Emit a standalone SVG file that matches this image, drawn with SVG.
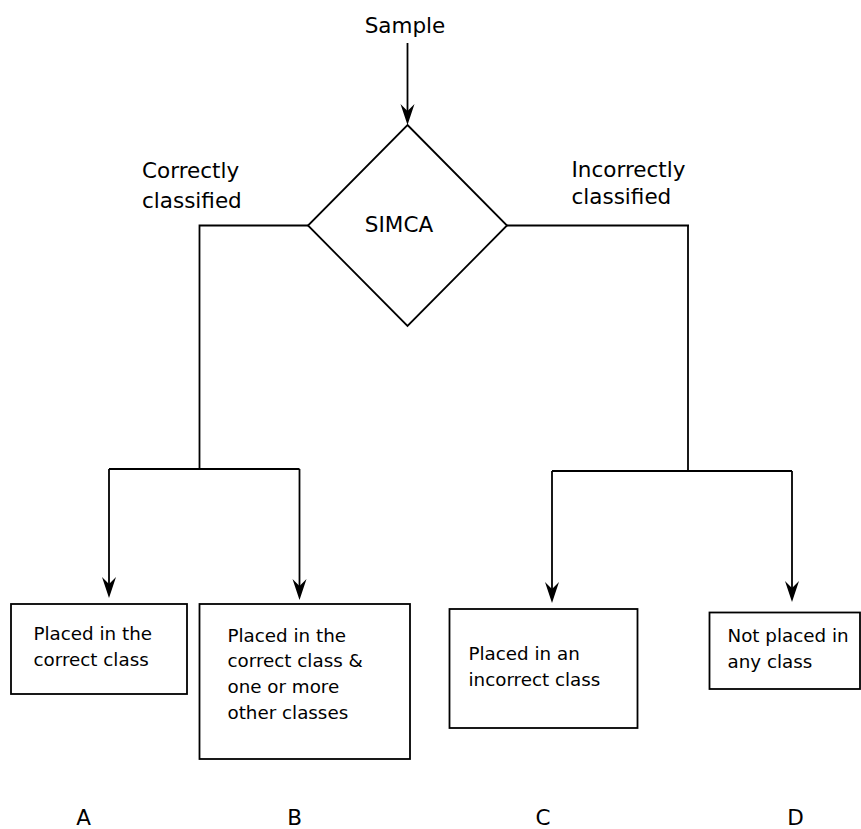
<svg xmlns="http://www.w3.org/2000/svg" width="861" height="829" viewBox="0 0 861 829">
<style>
.t{font-family:"DejaVu Sans","Liberation Sans",sans-serif;fill:#000}
.big{font-size:21.5px}
.sm{font-size:18.3px}
.box{fill:#fff;stroke:#000;stroke-width:1.8}
.ln{fill:none;stroke:#000;stroke-width:1.8}
</style>
<g id="connectors">
<path class="ln" d="M407.5,43 V112"/>
<path class="ln" d="M308,225.5 H199.5 V469"/>
<path class="ln" d="M109,469 H299.5"/>
<path class="ln" d="M109,469 V585"/>
<path class="ln" d="M299.5,469 V587"/>
<path class="ln" d="M507,225.5 H689"/>
<path class="ln" d="M688,225.5 V471"/>
<path class="ln" d="M552,471 H792"/>
<path class="ln" d="M552,471 V590"/>
<path class="ln" d="M792,471 V589"/>
<path d="M400.5,104 L407.5,111 L414.5,104 L407.5,125 Z"/>
<path d="M102,577 L109,584 L116,577 L109,598 Z"/>
<path d="M292.5,579 L299.5,586 L306.5,579 L299.5,600 Z"/>
<path d="M545,582 L552,589 L559,582 L552,603 Z"/>
<path d="M785,581 L792,588 L799,581 L792,602 Z"/>
</g>
<g id="sample"><text class="t big" x="405" y="33" text-anchor="middle">Sample</text></g>
<g id="simca">
<polygon class="box" points="407.5,125 507,225.5 407.5,326 308,225.5"/>
<text class="t big" x="399" y="232" text-anchor="middle">SIMCA</text>
</g>
<g id="label-correct">
<text class="t big" x="142" y="178">Correctly</text>
<text class="t big" x="142" y="207.5">classified</text>
</g>
<g id="label-incorrect">
<text class="t big" x="571.5" y="176.5">Incorrectly</text>
<text class="t big" x="571.5" y="204">classified</text>
</g>
<g id="boxA">
<rect class="box" x="11" y="604" width="176" height="90"/>
<text class="t sm" x="33.5" y="640">Placed in the</text>
<text class="t sm" x="33.5" y="666">correct class</text>
</g>
<g id="boxB">
<rect class="box" x="199.5" y="604" width="210.5" height="155"/>
<text class="t sm" x="227.5" y="641.5">Placed in the</text>
<text class="t sm" x="227.5" y="667.2">correct class &amp;</text>
<text class="t sm" x="227.5" y="692.9">one or more</text>
<text class="t sm" x="227.5" y="718.6">other classes</text>
</g>
<g id="boxC">
<rect class="box" x="449.5" y="609" width="188" height="119"/>
<text class="t sm" x="468.5" y="659.5">Placed in an</text>
<text class="t sm" x="468.5" y="686">incorrect class</text>
</g>
<g id="boxD">
<rect class="box" x="709.5" y="612.5" width="150.5" height="76.5"/>
<text class="t sm" x="727.5" y="642.3">Not placed in</text>
<text class="t sm" x="727.5" y="668.3">any class</text>
</g>
<g id="letters">
<text class="t big" x="83.7" y="825" text-anchor="middle">A</text>
<text class="t big" x="294.5" y="825" text-anchor="middle">B</text>
<text class="t big" x="543" y="825" text-anchor="middle">C</text>
<text class="t big" x="795.5" y="825" text-anchor="middle">D</text>
</g>
</svg>
